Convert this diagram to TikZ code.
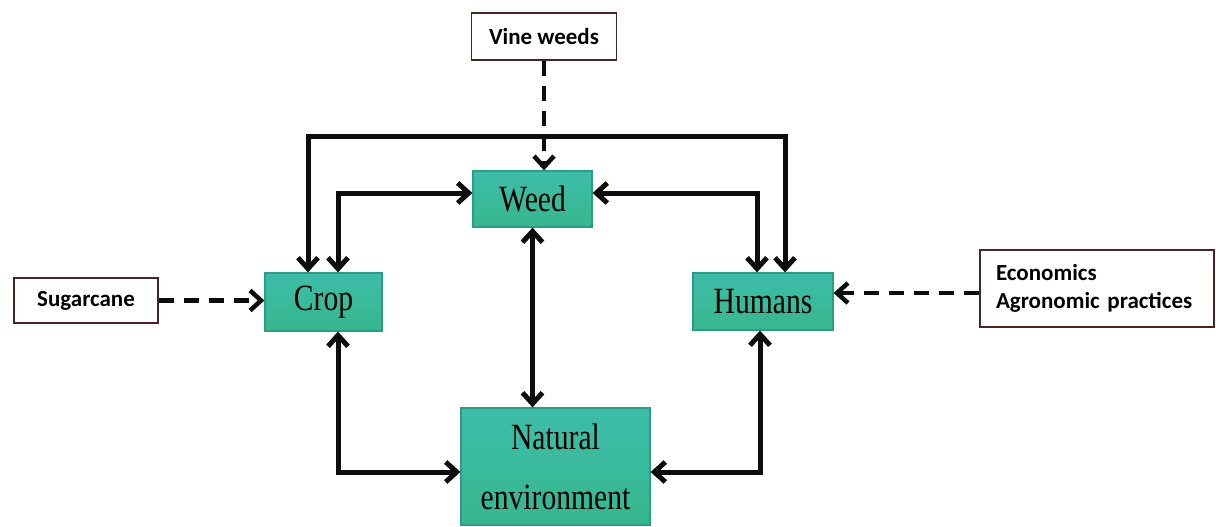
\documentclass[tikz,border=0pt]{standalone}
\usepackage{fontspec}
\usepackage{tikz}
\usetikzlibrary{arrows.meta,positioning,calc}
\newfontfamily\boxfont[FakeStretch=0.8]{Liberation Serif}
\newfontfamily\labelfont{Carlito}
\definecolor{cA}{HTML}{3DBDAA}
\definecolor{cB}{HTML}{36B78C}
\definecolor{cC}{HTML}{2A9E84}
\definecolor{cD}{HTML}{4A2520}
\definecolor{cE}{HTML}{0D0D0D}
\tikzset{
  unit/.style={rectangle,draw=cC,line width=1.2pt,top color=cA,bottom color=cB,
    inner sep=0pt,align=center,font=\boxfont\fontsize{37}{60}\selectfont},
  factor/.style={rectangle,draw=cD,line width=1.8pt,fill=white,inner sep=0pt,
    font=\labelfont\bfseries\fontsize{23}{28}\selectfont},
  link/.style={{Straight Barb[length=11pt,width=20pt]}-{Straight Barb[length=11pt,width=20pt]},
    line width=5pt,cE},
  influence/.style={-{Straight Barb[length=11pt,width=20pt]},line width=4.5pt,cE,
    dash pattern=on 15pt off 10pt},
}
\begin{document}
\begin{tikzpicture}[x=1pt,y=-1pt]
\useasboundingbox (0,0) rectangle (1216,527);
% main components
\node[unit,minimum width=119,minimum height=56] (weed) at (532.5,199) {Weed};
\node[unit,minimum width=117,minimum height=58] (crop) at (323.5,302) {Crop};
\node[unit,minimum width=140,minimum height=57] (humans) at (763,301.5) {Humans};
\node[unit,minimum width=189,minimum height=117] (natural) at (555.5,466.5) {Natural\\environment};
% outside factors
\node[factor,minimum width=145,minimum height=47] (vine) at (544,36.5) {Vine weeds};
\node[factor,minimum width=144,minimum height=45] (sugar) at (86,300.5) {Sugarcane};
\node[factor,minimum width=234,minimum height=77,text width=202,align=left,inner xsep=16pt]
  (econ) at (1097,288.5) {Economics\\Agronomic practices};
% corners of the routes
\coordinate (fL) at (308,136);
\coordinate (fR) at (785,136);
\coordinate (iL) at (338,193);
\coordinate (iR) at (757,193);
\coordinate (bL) at (338,472);
\coordinate (bR) at (760,472);
\coordinate (dH) at (0,293);
\draw[link] (crop.north -| fL) -- (fL) -- (fR) -- (humans.north -| fR);
\draw[link] (crop.north -| iL) -- (iL) -- (weed.west |- iL);
\draw[link] (weed.east |- iR) -- (iR) -- (humans.north -| iR);
\draw[link] (weed.south) -- (weed.south |- natural.north);
\draw[link] (crop.south -| bL) -- (bL) -- (natural.west |- bL);
\draw[link] (humans.south -| bR) -- (bR) -- (natural.east |- bR);
\draw[influence] (vine.south) -- (vine.south |- weed.north);
\draw[influence] (sugar.east) -- (crop.west |- sugar.east);
\draw[influence] (econ.west |- dH) -- (humans.east |- dH);
\end{tikzpicture}
\end{document}
